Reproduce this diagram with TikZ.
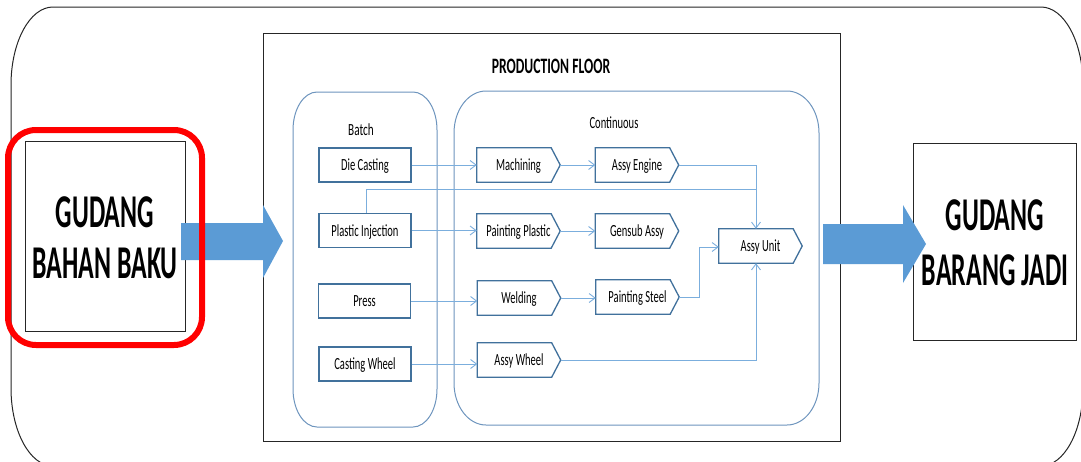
\documentclass[tikz,border=0pt]{standalone}
\usepackage{fontspec}
\setmainfont{Carlito}
\usepackage{graphicx}
\usetikzlibrary{arrows.meta,calc}
\definecolor{boxblue}{HTML}{41719C}
\definecolor{linkblue}{HTML}{7BAEDD}
\definecolor{bigblue}{HTML}{5B9BD5}
\definecolor{contblue}{HTML}{6E95BE}
\newcommand\sq[2][0.62]{\scalebox{#1}[1]{#2}}
% rectangle with elliptical corners: [style]{x1}{y1}{x2}{y2}{rx}{ry}
\newcommand\erect[7][]{\draw[#1] ({#2+#6},#3) -- ({#4-#6},#3)
 .. controls ({#4-#6+0.552*#6},#3) and (#4,{#3+#7-0.552*#7}) .. (#4,{#3+#7}) -- (#4,{#5-#7})
 .. controls (#4,{#5-#7+0.552*#7}) and ({#4-#6+0.552*#6},#5) .. ({#4-#6},#5) -- ({#2+#6},#5)
 .. controls ({#2+#6-0.552*#6},#5) and (#2,{#5-#7+0.552*#7}) .. (#2,{#5-#7}) -- (#2,{#3+#7})
 .. controls (#2,{#3+#7-0.552*#7}) and ({#2+#6-0.552*#6},#3) .. ({#2+#6},#3) -- cycle;}
\tikzset{
 smalltext/.style={font=\fontsize{17}{20}\selectfont},
 bigtext/.style={font=\bfseries\fontsize{47}{55}\selectfont, inner sep=0pt},
 batchbox/.style={draw=boxblue, line width=1.3pt, fill=white, minimum width=92pt, minimum height=34pt, inner sep=0pt, smalltext, text height=11pt, text depth=0pt},
 procbox/.style={minimum width=83pt, minimum height=34pt, inner sep=0pt, smalltext, text height=11pt, text depth=0pt},
 chevron/.style={draw=boxblue, line width=1.3pt, line join=miter},
 link/.style={draw=linkblue, line width=0.9pt, -{Straight Barb[length=6pt,width=9pt]}},
 linkplain/.style={draw=linkblue, line width=0.9pt},
 gudang/.style={draw=black!85, line width=1pt, fill=white, inner sep=0pt},
}
\begin{document}
\begin{tikzpicture}[x=1pt,y=-1pt]
\useasboundingbox (0,0) rectangle (1081,461);
\fill[white] (0,0) rectangle (1081,461);
% outer frame
\erect[draw=black!85, line width=1pt]{11}{7}{1083}{466}{42}{78}
% production floor
\draw[black!85, line width=1pt] (263,33) rectangle (840,441);
\node[font=\bfseries\fontsize{22}{26}\selectfont, anchor=base, inner sep=0pt] (pft) at (551,73) {\sq{PRODUCTION FLOOR}};
% containers
\erect[draw=contblue, line width=1pt]{293}{92}{437}{427}{24}{38}
\erect[draw=contblue, line width=1pt]{454}{91}{819}{425}{32}{42}
\node[smalltext, anchor=base, inner sep=0pt] (bl) at (361,135) {\sq[0.66]{Batch}};
\node[smalltext, anchor=base, inner sep=0pt] (cl) at (614,128) {\sq{Continuous}};
% warehouses
\node[gudang, minimum width=160pt, minimum height=190pt] (gbb) at (105,236) {};
\node[gudang, minimum width=163pt, minimum height=197pt] (gbj) at (994.5,241.5) {};
\node[bigtext, anchor=base] (t1) at (105,227) {\sq[0.55]{GUDANG}};
\node[bigtext, anchor=base] (t2) at (105,278) {\sq[0.55]{BAHAN BAKU}};
\node[bigtext, anchor=base] (t3) at (995,230) {\sq[0.55]{GUDANG}};
\node[bigtext, anchor=base] (t4) at (995,285) {\sq[0.55]{BARANG JADI}};
% big arrows
\fill[bigblue] (181,223) -- (263,223) -- (263,205) -- (283,241) -- (263,278) -- (263,260) -- (181,260) -- cycle;
\fill[bigblue] (823,224) -- (903,224) -- (903,205) -- (926,244) -- (903,283) -- (903,264) -- (823,264) -- cycle;
% red highlight
\draw[red, line width=6pt, rounded corners=28pt] (8,130) rectangle (202,345);
% batch boxes
\node[batchbox] (dc) at (365,165) {\sq{Die Casting}};
\node[batchbox] (pi) at (365,230.5) {\sq{Plastic Injection}};
\node[batchbox] (pr) at (364.5,301) {\sq{Press}};
\node[batchbox] (cw) at (365,364) {\sq{Casting Wheel}};
% process boxes
\node[procbox] (mach) at (518.5,165) {\sq{Machining}};
\node[procbox] (ae) at (637,165) {\sq{Assy Engine}};
\node[procbox] (pp) at (518.5,231) {\sq{Painting Plastic}};
\node[procbox] (ga) at (637,231) {\sq{Gensub Assy}};
\node[procbox] (wd) at (519,298) {\sq{Welding}};
\node[procbox] (ps) at (637.5,297) {\sq{Painting Steel}};
\node[procbox] (aw) at (519,360) {\sq{Assy Wheel}};
\node[procbox] (au) at (760.5,246) {\sq{Assy Unit}};
\foreach \n in {mach,ae,pp,ga,wd,ps,aw,au}
  \draw[chevron] (\n.north west) -- ([xshift=-9pt]\n.north east) -- (\n.east) -- ([xshift=-9pt]\n.south east) -- (\n.south west) -- cycle;
% connectors
\coordinate (jx) at (756,0);
\coordinate (merge) at (756,189);
\draw[link] (dc.east) -- (dc.east -| mach.west);
\draw[link] (mach.east) -- (ae.west);
\draw[link] (ae.east) -| (jx |- au.north);
\draw[linkplain] ([xshift=1pt]pi.north) |- (merge);
\draw[link] (pi.east) -- (pi.east -| pp.west);
\draw[link] (pp.east) -- (ga.west);
\draw[link] (pr.east) -- (pr.east -| wd.west);
\draw[link] (wd.east) -- (wd.east -| ps.west);
\draw[link] (ps.east) -- ++(20,0) |- ([yshift=-1pt]au.west);
\draw[link] (cw.east) -- (cw.east -| aw.west);
\draw[link] (aw.east) -| (jx |- au.south);
\end{tikzpicture}
\end{document}
